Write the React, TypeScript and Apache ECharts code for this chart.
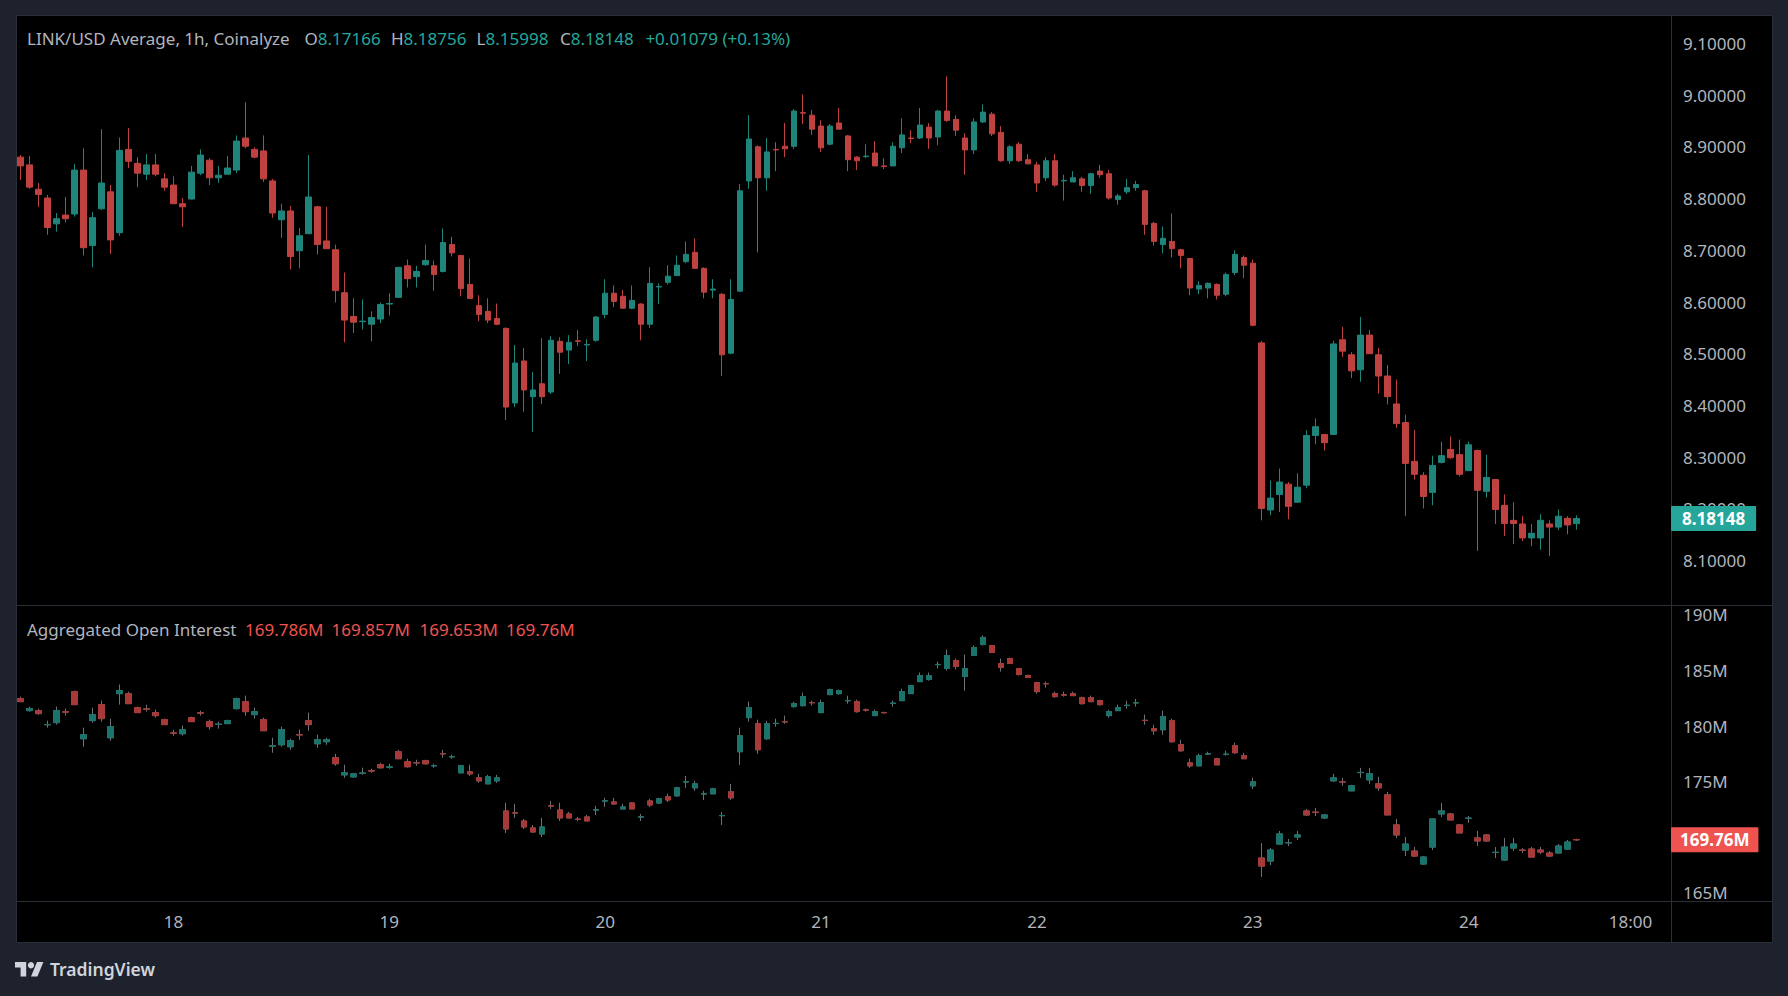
import React, { useEffect, useRef } from 'react';
import * as echarts from 'echarts';

// ---------- LINK/USD hourly candles (17th 07:00 -> 24th 12:00) ----------
const priceOpen = [
  8.880, 8.865, 8.818, 8.801, 8.751, 8.768, 8.770, 8.855, 8.709, 8.780,
  8.813, 8.734, 8.895, 8.868, 8.847, 8.865, 8.838, 8.826, 8.790, 8.799,
  8.849, 8.874, 8.840, 8.847, 8.855, 8.917, 8.895, 8.892, 8.834, 8.759,
  8.776, 8.699, 8.732, 8.784, 8.718, 8.701, 8.618, 8.572, 8.562, 8.557,
  8.567, 8.596, 8.609, 8.670, 8.649, 8.672, 8.670, 8.659, 8.711, 8.690,
  8.634, 8.593, 8.582, 8.568, 8.549, 8.405, 8.486, 8.417, 8.442, 8.426,
  8.524, 8.507, 8.525, 8.517, 8.526, 8.576, 8.617, 8.611, 8.588, 8.596,
  8.557, 8.629, 8.638, 8.651, 8.678, 8.696, 8.665, 8.623, 8.615, 8.501,
  8.621, 8.834, 8.900, 8.840, 8.895, 8.901, 8.901, 8.966, 8.961, 8.940,
  8.905, 8.946, 8.921, 8.880, 8.881, 8.888, 8.863, 8.863, 8.898, 8.917,
  8.917, 8.938, 8.919, 8.969, 8.953, 8.917, 8.894, 8.948, 8.963, 8.928,
  8.873, 8.905, 8.875, 8.865, 8.840, 8.873, 8.834, 8.832, 8.838, 8.825,
  8.853, 8.848, 8.798, 8.813, 8.821, 8.815, 8.752, 8.711, 8.717, 8.701,
  8.684, 8.625, 8.627, 8.634, 8.615, 8.657, 8.686, 8.675, 8.521, 8.198,
  8.228, 8.248, 8.213, 8.246, 8.342, 8.344, 8.344, 8.527, 8.498, 8.469,
  8.536, 8.498, 8.457, 8.403, 8.367, 8.292, 8.265, 8.232, 8.290, 8.315,
  8.305, 8.274, 8.313, 8.234, 8.257, 8.207, 8.178, 8.171, 8.144, 8.144,
  8.171, 8.165, 8.182, 8.17166,
];
const priceClose = [
  8.863, 8.822, 8.808, 8.744, 8.761, 8.761, 8.855, 8.705, 8.763, 8.830,
  8.720, 8.893, 8.872, 8.849, 8.865, 8.847, 8.822, 8.790, 8.784, 8.851,
  8.884, 8.840, 8.845, 8.859, 8.911, 8.901, 8.880, 8.838, 8.772, 8.776,
  8.688, 8.728, 8.803, 8.711, 8.703, 8.622, 8.565, 8.561, 8.563, 8.570,
  8.595, 8.597, 8.667, 8.645, 8.659, 8.680, 8.653, 8.715, 8.695, 8.626,
  8.607, 8.576, 8.565, 8.557, 8.397, 8.482, 8.430, 8.430, 8.417, 8.526,
  8.503, 8.522, 8.524, 8.518, 8.571, 8.617, 8.601, 8.588, 8.603, 8.557,
  8.636, 8.630, 8.650, 8.671, 8.692, 8.665, 8.619, 8.625, 8.498, 8.605,
  8.815, 8.915, 8.840, 8.890, 8.894, 8.896, 8.969, 8.965, 8.934, 8.898,
  8.940, 8.934, 8.875, 8.873, 8.882, 8.863, 8.862, 8.901, 8.923, 8.916,
  8.942, 8.917, 8.969, 8.951, 8.932, 8.894, 8.948, 8.967, 8.925, 8.873,
  8.900, 8.873, 8.867, 8.830, 8.873, 8.826, 8.835, 8.840, 8.825, 8.848,
  8.846, 8.801, 8.805, 8.821, 8.827, 8.750, 8.717, 8.723, 8.703, 8.690,
  8.627, 8.632, 8.636, 8.613, 8.653, 8.692, 8.671, 8.555, 8.201, 8.221,
  8.252, 8.205, 8.242, 8.342, 8.359, 8.328, 8.519, 8.505, 8.467, 8.536,
  8.500, 8.457, 8.417, 8.365, 8.288, 8.267, 8.224, 8.284, 8.303, 8.299,
  8.267, 8.324, 8.236, 8.261, 8.199, 8.172, 8.172, 8.144, 8.153, 8.178,
  8.165, 8.186, 8.169, 8.18148,
];
const priceHigh = [
  8.884, 8.882, 8.830, 8.807, 8.772, 8.803, 8.867, 8.897, 8.774, 8.934,
  8.826, 8.918, 8.936, 8.880, 8.886, 8.886, 8.849, 8.843, 8.801, 8.863,
  8.895, 8.878, 8.863, 8.882, 8.922, 8.986, 8.899, 8.922, 8.838, 8.790,
  8.786, 8.743, 8.884, 8.786, 8.784, 8.711, 8.657, 8.607, 8.605, 8.582,
  8.599, 8.617, 8.667, 8.682, 8.670, 8.711, 8.680, 8.742, 8.726, 8.690,
  8.684, 8.613, 8.607, 8.597, 8.551, 8.517, 8.511, 8.465, 8.530, 8.534,
  8.532, 8.536, 8.546, 8.528, 8.573, 8.644, 8.632, 8.623, 8.632, 8.598,
  8.667, 8.636, 8.671, 8.690, 8.717, 8.723, 8.667, 8.644, 8.617, 8.644,
  8.828, 8.961, 8.903, 8.917, 8.909, 8.946, 8.973, 9.001, 8.971, 8.951,
  8.944, 8.975, 8.923, 8.882, 8.905, 8.911, 8.878, 8.909, 8.955, 8.932,
  8.975, 8.946, 8.971, 9.036, 8.961, 8.926, 8.955, 8.982, 8.967, 8.940,
  8.903, 8.909, 8.886, 8.871, 8.880, 8.886, 8.846, 8.853, 8.842, 8.850,
  8.865, 8.855, 8.809, 8.838, 8.834, 8.817, 8.755, 8.746, 8.771, 8.703,
  8.684, 8.640, 8.638, 8.636, 8.657, 8.700, 8.690, 8.682, 8.525, 8.255,
  8.278, 8.252, 8.269, 8.352, 8.375, 8.344, 8.525, 8.552, 8.503, 8.571,
  8.546, 8.511, 8.478, 8.450, 8.382, 8.353, 8.271, 8.303, 8.330, 8.340,
  8.334, 8.330, 8.315, 8.305, 8.257, 8.228, 8.213, 8.186, 8.171, 8.190,
  8.178, 8.199, 8.186, 8.18756,
];
const priceLow = [
  8.836, 8.819, 8.784, 8.730, 8.736, 8.754, 8.765, 8.690, 8.667, 8.778,
  8.693, 8.728, 8.859, 8.822, 8.836, 8.843, 8.815, 8.789, 8.745, 8.798,
  8.845, 8.826, 8.830, 8.847, 8.849, 8.897, 8.878, 8.832, 8.763, 8.724,
  8.663, 8.665, 8.732, 8.692, 8.703, 8.599, 8.522, 8.540, 8.547, 8.524,
  8.559, 8.574, 8.609, 8.628, 8.628, 8.670, 8.622, 8.657, 8.688, 8.611,
  8.607, 8.563, 8.559, 8.555, 8.372, 8.397, 8.388, 8.349, 8.403, 8.422,
  8.461, 8.480, 8.515, 8.486, 8.523, 8.569, 8.590, 8.588, 8.586, 8.526,
  8.550, 8.596, 8.634, 8.651, 8.675, 8.665, 8.607, 8.607, 8.457, 8.499,
  8.619, 8.819, 8.696, 8.815, 8.853, 8.880, 8.896, 8.944, 8.923, 8.890,
  8.903, 8.934, 8.853, 8.855, 8.878, 8.863, 8.857, 8.863, 8.888, 8.907,
  8.915, 8.896, 8.903, 8.948, 8.921, 8.846, 8.886, 8.946, 8.921, 8.871,
  8.867, 8.871, 8.867, 8.813, 8.834, 8.823, 8.796, 8.832, 8.813, 8.809,
  8.840, 8.798, 8.788, 8.809, 8.815, 8.730, 8.709, 8.694, 8.686, 8.665,
  8.613, 8.615, 8.607, 8.605, 8.611, 8.652, 8.646, 8.553, 8.178, 8.188,
  8.194, 8.180, 8.213, 8.240, 8.325, 8.313, 8.344, 8.494, 8.453, 8.446,
  8.500, 8.423, 8.402, 8.357, 8.186, 8.257, 8.201, 8.207, 8.288, 8.297,
  8.263, 8.274, 8.119, 8.222, 8.171, 8.148, 8.132, 8.138, 8.128, 8.121,
  8.109, 8.159, 8.151, 8.15998,
];

// ---------- Aggregated Open Interest (millions) ----------
const oiOpen = [
  182.47, 181.39, 181.39, 180.12, 180.31, 181.28, 183.10, 178.86, 180.49, 181.93,
  178.95, 182.92, 182.92, 181.66, 181.55, 181.21, 180.58, 179.38, 179.31, 180.76,
  181.19, 180.40, 180.15, 180.22, 181.57, 182.20, 181.03, 180.58, 178.19, 178.32,
  178.14, 179.23, 180.49, 178.41, 178.59, 177.15, 175.61, 175.43, 175.75, 175.98,
  176.52, 176.30, 177.69, 176.79, 176.71, 176.88, 176.42, 177.52, 177.23, 175.79,
  175.88, 175.34, 174.80, 175.07, 172.36, 172.19, 171.46, 170.83, 170.29, 172.83,
  172.45, 172.09, 171.62, 171.82, 172.44, 173.25, 173.17, 172.54, 173.08, 171.81,
  173.26, 173.08, 173.63, 173.72, 174.97, 174.44, 173.89, 173.90, 171.93, 174.08,
  177.69, 180.76, 180.21, 178.86, 180.23, 180.40, 181.75, 181.84, 182.12, 181.21,
  182.83, 182.92, 182.28, 182.20, 181.46, 180.94, 181.22, 182.04, 182.29, 182.92,
  184.00, 184.19, 185.53, 185.18, 185.90, 184.46, 186.35, 187.34, 187.25, 185.63,
  186.08, 185.18, 184.55, 183.91, 183.83, 182.92, 182.81, 182.92, 182.56, 182.56,
  182.29, 180.94, 181.39, 181.85, 182.09, 180.52, 179.76, 179.67, 180.48, 178.32,
  176.69, 176.42, 177.49, 177.06, 177.45, 178.23, 177.33, 174.62, 168.12, 167.85,
  169.38, 169.49, 170.02, 172.36, 172.25, 171.73, 175.07, 174.99, 174.17, 175.81,
  175.16, 174.80, 173.81, 171.10, 168.84, 168.75, 167.58, 169.11, 172.09, 172.09,
  171.10, 171.69, 169.93, 170.20, 168.62, 167.94, 169.02, 168.83, 168.93, 168.84,
  168.57, 168.57, 168.93, 169.786,
];
const oiClose = [
  182.20, 181.57, 181.12, 180.14, 181.39, 181.26, 181.93, 179.22, 181.03, 180.67,
  179.95, 183.20, 182.02, 181.21, 181.53, 180.94, 180.13, 179.36, 179.68, 180.40,
  181.17, 179.95, 180.17, 180.49, 182.47, 181.30, 181.30, 179.58, 178.21, 179.68,
  178.68, 179.21, 180.13, 178.77, 178.77, 176.61, 175.79, 175.70, 175.77, 175.96,
  176.25, 176.32, 177.06, 176.34, 176.69, 176.61, 176.44, 177.50, 177.25, 176.43,
  175.70, 175.07, 175.43, 175.34, 170.74, 172.17, 170.92, 170.47, 170.92, 172.81,
  171.73, 171.73, 171.60, 171.46, 172.46, 173.27, 172.99, 172.72, 172.54, 171.83,
  172.90, 173.45, 173.35, 174.44, 174.99, 174.80, 173.91, 174.35, 171.95, 173.54,
  179.13, 181.66, 177.87, 180.21, 180.25, 180.38, 182.02, 182.65, 182.10, 182.11,
  183.28, 183.19, 182.30, 181.30, 181.44, 181.30, 181.20, 182.06, 183.10, 183.64,
  184.55, 184.55, 185.55, 186.35, 185.36, 185.18, 187.07, 187.98, 186.62, 185.27,
  185.63, 184.64, 184.37, 183.10, 183.81, 182.65, 182.79, 182.74, 182.02, 182.20,
  181.93, 181.30, 181.66, 181.87, 182.11, 180.50, 179.58, 180.85, 178.59, 177.78,
  176.42, 177.33, 177.51, 176.51, 177.47, 177.60, 177.06, 174.98, 167.40, 168.84,
  170.29, 169.51, 170.20, 172.00, 172.23, 172.00, 175.34, 174.97, 174.62, 175.83,
  175.70, 174.44, 172.00, 170.20, 169.38, 168.30, 168.21, 171.64, 172.36, 171.55,
  170.38, 171.71, 169.66, 169.66, 168.64, 169.11, 169.38, 168.81, 168.21, 168.66,
  168.30, 169.20, 169.56, 169.76,
];
const oiHigh = [
  182.65, 181.75, 181.57, 180.49, 181.75, 181.57, 183.20, 179.86, 181.66, 182.29,
  180.67, 183.74, 183.10, 181.75, 181.93, 181.48, 180.67, 179.68, 180.04, 180.85,
  181.39, 180.58, 180.40, 180.58, 182.56, 182.74, 181.66, 180.76, 178.95, 179.95,
  178.86, 179.68, 181.21, 179.22, 178.95, 177.51, 176.52, 175.79, 176.25, 176.16,
  176.70, 176.61, 177.87, 177.06, 176.97, 176.97, 176.61, 177.87, 177.42, 176.52,
  176.52, 175.70, 175.61, 175.61, 173.09, 173.00, 171.64, 171.10, 171.73, 173.27,
  173.09, 172.27, 171.82, 172.00, 172.81, 173.54, 173.54, 172.99, 173.17, 172.09,
  173.45, 173.54, 173.90, 174.53, 175.52, 175.07, 174.17, 174.44, 172.27, 174.80,
  179.85, 182.20, 180.57, 180.48, 180.67, 180.94, 182.20, 183.01, 182.29, 182.38,
  183.37, 183.28, 182.74, 182.38, 181.57, 181.48, 181.30, 182.29, 183.37, 183.64,
  184.82, 184.82, 185.81, 186.89, 186.08, 186.44, 187.25, 188.16, 187.25, 186.08,
  186.17, 185.18, 184.64, 184.00, 184.00, 183.10, 183.10, 183.10, 182.65, 182.74,
  182.38, 181.48, 181.93, 182.29, 182.45, 181.03, 180.12, 181.39, 180.67, 178.77,
  177.06, 177.51, 177.69, 177.15, 177.78, 178.50, 177.60, 175.34, 169.47, 169.02,
  170.56, 169.84, 170.56, 172.54, 172.63, 172.09, 175.70, 175.34, 174.71, 176.24,
  176.24, 175.43, 174.08, 171.64, 170.02, 169.11, 168.30, 171.64, 173.08, 172.18,
  171.19, 171.91, 170.56, 170.29, 169.11, 169.93, 169.93, 169.02, 169.11, 169.11,
  168.75, 169.38, 169.75, 169.857,
];
const oiLow = [
  182.20, 181.30, 181.03, 179.86, 180.13, 180.94, 181.93, 178.14, 180.31, 180.40,
  178.68, 181.93, 182.02, 181.21, 181.30, 180.76, 180.13, 179.13, 179.13, 180.40,
  180.94, 179.68, 179.77, 180.22, 181.48, 180.94, 180.67, 179.58, 177.60, 178.14,
  177.87, 178.77, 179.58, 178.05, 178.32, 176.43, 175.34, 175.34, 175.61, 175.79,
  176.16, 176.16, 177.06, 176.25, 176.43, 176.52, 176.25, 177.15, 177.06, 175.79,
  175.52, 174.89, 174.80, 174.89, 170.38, 171.73, 170.74, 170.38, 170.02, 172.55,
  171.46, 171.73, 171.46, 171.46, 172.00, 172.72, 172.90, 172.54, 172.54, 171.46,
  172.72, 172.99, 173.17, 173.63, 174.44, 174.17, 173.35, 173.90, 171.10, 173.35,
  176.51, 180.39, 177.51, 178.77, 179.94, 180.21, 181.66, 181.75, 181.84, 181.21,
  182.83, 182.83, 182.02, 181.21, 181.30, 180.94, 181.12, 181.75, 182.29, 182.92,
  184.00, 184.09, 185.18, 185.00, 185.09, 183.19, 186.35, 187.25, 186.62, 184.91,
  185.63, 184.55, 184.37, 182.92, 183.46, 182.56, 182.65, 182.74, 181.93, 182.20,
  181.84, 180.76, 181.39, 181.57, 181.75, 180.12, 179.22, 179.22, 178.50, 177.69,
  176.24, 176.42, 177.42, 176.51, 177.33, 177.51, 177.06, 174.35, 166.41, 167.49,
  169.38, 169.20, 169.75, 171.91, 171.91, 171.64, 174.98, 174.62, 174.17, 175.34,
  174.80, 174.17, 172.00, 169.93, 168.30, 168.21, 167.49, 168.84, 171.82, 171.55,
  170.38, 171.28, 169.20, 169.56, 168.12, 167.85, 168.75, 168.57, 168.21, 168.48,
  168.21, 168.57, 168.84, 169.653,
];

// ---------- axes ----------
const START_DAY = 17;
const START_HOUR = 7;
const SLOT_COUNT = 184; // hourly slots visible on the time scale (data + empty right margin)
const categories = Array.from({ length: SLOT_COUNT }, (_, i) => {
  const t = START_HOUR + i;
  const d = START_DAY + Math.floor(t / 24);
  const h = t % 24;
  return `${d} ${String(h).padStart(2, '0')}:00`;
});
const xExtraLabel = '24 18:00';
const priceTicks = [8.1, 8.2, 8.3, 8.4, 8.5, 8.6, 8.7, 8.8, 8.9, 9.0, 9.1];
const oiTicks = [165, 170, 175, 180, 185, 190];

const priceTitle = 'LINK/USD Average, 1h, Coinalyze';
const priceLegend = [
  { k: 'O', v: '8.17166' },
  { k: 'H', v: '8.18756' },
  { k: 'L', v: '8.15998' },
  { k: 'C', v: '8.18148' },
  { k: '', v: '+0.01079 (+0.13%)' },
];
const oiTitle = 'Aggregated Open Interest';
const oiLegend = ['169.786M', '169.857M', '169.653M', '169.76M'];

const FONT = '"Noto Sans", "DejaVu Sans", sans-serif';
const GREY = '#b2b5be';
const TEAL = '#26a69a';
const RED = '#ef5350';
const LINE = '#2a2e39';
const FRAME = '#1e222d';
const HEAD_SIZE = 17;

const TV_PATH = 'M14 22H7V11H0V4h14v18zM28 22h-8l7.5-18h8L28 22z';
let shapeRegistered = false;

export default function App() {
  const ref = useRef<HTMLDivElement>(null);

  useEffect(() => {
    if (!ref.current) return;
    if (!shapeRegistered) {
      try {
        echarts.graphic.registerShape('tvLogo', echarts.graphic.extendPath(TV_PATH, {}));
      } catch (e) { /* already registered */ }
      shapeRegistered = true;
    }
    const chart = echarts.init(ref.current, null, { renderer: 'svg' });

    const priceData = priceOpen.map((o, i) => [o, priceClose[i], priceLow[i], priceHigh[i]]);
    const oiWick = oiOpen.map((o, i) => [o, oiClose[i], oiLow[i], oiHigh[i]]);
    const oiBody = oiOpen.map((o, i) => [o, oiClose[i], Math.min(o, oiClose[i]), Math.max(o, oiClose[i])]);
    const lastPrice = priceClose[priceClose.length - 1];
    const lastOi = oiClose[oiClose.length - 1];

    const legendX = [304.5, 391, 476.6, 560, 645.4];
    const oiLegendX = [245, 331.5, 419.5, 506];

    const graphics: any[] = [
      // outer frame (dark) around the black chart panel
      { type: 'rect', shape: { x: 0, y: 0, width: 1788, height: 15 }, style: { fill: FRAME }, silent: true },
      { type: 'rect', shape: { x: 0, y: 0, width: 16, height: 996 }, style: { fill: FRAME }, silent: true },
      { type: 'rect', shape: { x: 1773, y: 0, width: 15, height: 996 }, style: { fill: FRAME }, silent: true },
      { type: 'rect', shape: { x: 0, y: 943, width: 1788, height: 53 }, style: { fill: FRAME }, silent: true },
      { type: 'rect', shape: { x: 16.5, y: 15.5, width: 1756, height: 927 }, style: { fill: 'none', stroke: LINE, lineWidth: 1 }, silent: true },
      { type: 'line', shape: { x1: 1671.5, y1: 15, x2: 1671.5, y2: 943 }, style: { stroke: LINE, lineWidth: 1 }, silent: true },
      { type: 'line', shape: { x1: 16, y1: 605.5, x2: 1773, y2: 605.5 }, style: { stroke: LINE, lineWidth: 1 }, silent: true },
      { type: 'line', shape: { x1: 16, y1: 901.5, x2: 1773, y2: 901.5 }, style: { stroke: LINE, lineWidth: 1 }, silent: true },
      // header
      { type: 'text', x: 27, y: 38, style: { text: priceTitle, fill: GREY, fontSize: HEAD_SIZE, fontFamily: FONT, verticalAlign: 'middle' }, silent: true },
      ...priceLegend.map((p, i) => ({
        type: 'text', x: legendX[i], y: 38, silent: true,
        style: {
          text: p.k ? `{k|${p.k}}{v|${p.v}}` : `{v|${p.v}}`,
          fontSize: HEAD_SIZE, fontFamily: FONT, verticalAlign: 'middle',
          rich: {
            k: { fill: GREY, fontSize: HEAD_SIZE, fontFamily: FONT },
            v: { fill: TEAL, fontSize: HEAD_SIZE, fontFamily: FONT },
          },
        },
      })),
      { type: 'text', x: 27, y: 629, style: { text: oiTitle, fill: GREY, fontSize: HEAD_SIZE, fontFamily: FONT, verticalAlign: 'middle' }, silent: true },
      ...oiLegend.map((t, i) => ({
        type: 'text', x: oiLegendX[i], y: 629, silent: true,
        style: { text: t, fill: RED, fontSize: HEAD_SIZE, fontFamily: FONT, verticalAlign: 'middle' },
      })),
      // TradingView mark
      { type: 'tvLogo', x: 15, y: 958.8, scaleX: 0.8, scaleY: 0.8, style: { fill: '#d1d4dc' }, silent: true },
      { type: 'circle', shape: { cx: 31, cy: 965.2, r: 3.2 }, style: { fill: '#d1d4dc' }, silent: true },
      { type: 'text', x: 50, y: 969, style: { text: 'TradingView', fill: '#d1d4dc', fontSize: 17.5, fontWeight: 600, fontFamily: FONT, verticalAlign: 'middle' }, silent: true },
    ];

    const xBase = {
      type: 'category',
      data: categories,
      boundaryGap: true,
      axisLine: { show: false },
      axisTick: { show: false },
      splitLine: { show: false },
    };

    const badge = (bg: string, pad: number[]) => ({
      show: true, position: 'end', distance: 0,
      color: '#ffffff', backgroundColor: bg, fontSize: 17, fontWeight: 'bold', fontFamily: FONT,
      padding: pad, borderRadius: 1, lineHeight: 18, opacity: 1,
    });

    chart.setOption({
      animation: false,
      backgroundColor: '#000000',
      textStyle: { fontFamily: FONT },
      grid: [
        { left: 16, top: 15, width: 1655, height: 590.3 },
        { left: 16, top: 605.3, width: 1655, height: 296 },
      ],
      xAxis: [
        { ...xBase, gridIndex: 0, axisLabel: { show: false } },
        {
          ...xBase, gridIndex: 1,
          axisLabel: {
            show: true, color: GREY, fontSize: 17, fontFamily: FONT, margin: 12,
            interval: (_: number, v: string) => v.endsWith(' 00:00') || v === xExtraLabel,
            formatter: (v: string) => (v.endsWith(' 00:00') ? v.split(' ')[0] : v.split(' ')[1]),
          },
        },
      ],
      yAxis: [
        {
          type: 'value', gridIndex: 0, position: 'right', min: 8.0138, max: 9.1547, scale: true,
          axisLine: { show: false }, axisTick: { show: false }, splitLine: { show: false },
          axisLabel: {
            customValues: priceTicks, color: GREY, fontSize: 17, fontFamily: FONT, margin: 12, align: 'left',
            formatter: (v: number) => v.toFixed(5),
          },
        },
        {
          type: 'value', gridIndex: 1, position: 'right', min: 164.226, max: 190.873, scale: true,
          axisLine: { show: false }, axisTick: { show: false }, splitLine: { show: false },
          axisLabel: {
            customValues: oiTicks, color: GREY, fontSize: 17, fontFamily: FONT, margin: 12, align: 'left',
            formatter: (v: number) => `${v}M`,
          },
        },
      ],
      graphic: graphics,
      series: [
        {
          type: 'candlestick', xAxisIndex: 0, yAxisIndex: 0, data: priceData, barWidth: 6,
          itemStyle: { color: '#1f857b', color0: '#bf4240', borderColor: '#1f857b', borderColor0: '#bf4240', borderWidth: 1 },
          markLine: {
            silent: true, symbol: ['none', 'none'], animation: false, precision: 5,
            lineStyle: { color: 'rgba(0,0,0,0)', width: 0, type: 'solid' },
            label: { ...badge(TEAL, [4, 11, 3, 11]), formatter: () => lastPrice.toFixed(5) },
            data: [{ yAxis: lastPrice }],
          },
        },
        {
          type: 'candlestick', xAxisIndex: 1, yAxisIndex: 1, data: oiWick, barWidth: 6,
          itemStyle: { color: '#6f7178', color0: '#6f7178', borderColor: '#6f7178', borderColor0: '#6f7178', borderWidth: 1 },
        },
        {
          type: 'candlestick', xAxisIndex: 1, yAxisIndex: 1, data: oiBody, barWidth: 6,
          itemStyle: { color: '#1b746c', color0: '#a73a38', borderColor: '#1b746c', borderColor0: '#a73a38', borderWidth: 1 },
          markLine: {
            silent: true, symbol: ['none', 'none'], animation: false, precision: 2,
            lineStyle: { color: 'rgba(0,0,0,0)', width: 0, type: 'solid' },
            label: { ...badge(RED, [4, 9, 3, 9]), formatter: () => `${lastOi}M` },
            data: [{ yAxis: lastOi }],
          },
        },
      ],
    });

    return () => chart.dispose();
  }, []);

  return (
    <div
      ref={ref}
      style={{ position: 'fixed', left: 0, top: 0, width: 1788, height: 996 }}
    />
  );
}
